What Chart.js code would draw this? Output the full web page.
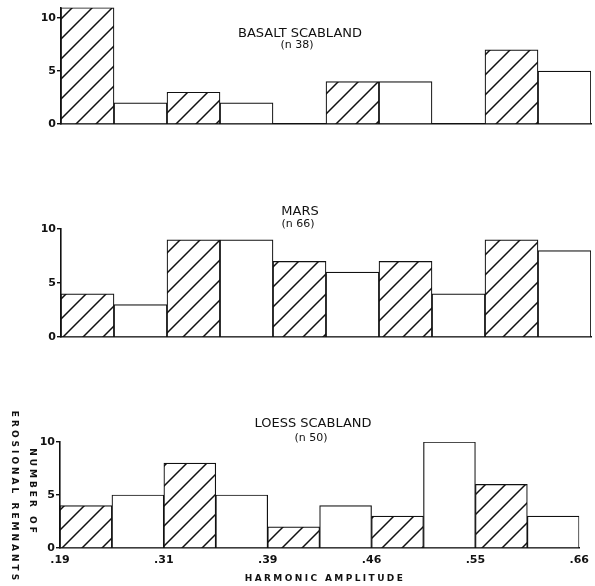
<!DOCTYPE html>
<html>
<head>
<meta charset="utf-8">
<script src="https://cdn.jsdelivr.net/npm/chart.js@4"></script>
<style>
  html, body { margin: 0; padding: 0; background: #fff; }
  #wrap { position: relative; width: 595px; height: 586px; overflow: hidden; background: #fff; }
  #wrap canvas { position: absolute; left: 0; }
</style>
</head>
<body>
<div id="wrap">
  <canvas id="basalt" width="595" height="150" style="top:0px"></canvas>
  <canvas id="mars" width="595" height="200" style="top:160px"></canvas>
  <canvas id="loess" width="595" height="196" style="top:390px"></canvas>
</div>
<script>
// Harmonic amplitude class boundaries (labelled every second boundary)
const amplitudeTicks = ['.19', '.31', '.39', '.46', '.55', '.66'];

// Number of erosional remnants per amplitude class
const basaltCounts = [11, 2, 3, 2, 0, 4, 4, 0, 7, 5];
const marsCounts   = [4, 3, 9, 9, 7, 6, 7, 4, 9, 8];
const loessCounts  = [4, 5, 8, 5, 2, 4, 3, 10, 6, 3];

// Which classes are drawn with diagonal hatching
const basaltHatched = [1, 0, 1, 0, 0, 1, 0, 0, 1, 0];
const marsHatched   = [1, 0, 1, 0, 1, 0, 1, 0, 1, 0];
const loessHatched  = [1, 0, 1, 0, 1, 0, 1, 0, 1, 0];

const INK = '#111';
const FONT = "'DejaVu Sans', sans-serif";

function makeHatch(ctx) {
  const tile = document.createElement('canvas');
  tile.width = 20; tile.height = 20;
  const g = tile.getContext('2d');
  g.fillStyle = '#fff';
  g.fillRect(0, 0, 20, 20);
  g.strokeStyle = INK;
  g.lineWidth = 1.5;
  g.beginPath();
  g.moveTo(-2, 22); g.lineTo(22, -2);
  g.moveTo(-2, 2);  g.lineTo(2, -2);
  g.moveTo(18, 22); g.lineTo(22, 18);
  g.stroke();
  return ctx.createPattern(tile, 'repeat');
}

// Free text (panel titles, axis titles) drawn on the canvas
const notesPlugin = {
  id: 'notes',
  afterDraw(chart, args, opts) {
    const ctx = chart.ctx;
    const top = chart.canvas.offsetTop;
    (opts.items || []).forEach(it => {
      ctx.save();
      ctx.fillStyle = INK;
      ctx.font = it.font;
      ctx.textAlign = 'center';
      ctx.textBaseline = 'middle';
      if (it.spacing) ctx.letterSpacing = it.spacing + 'px';
      ctx.translate(it.x, it.y - top);
      if (it.rot) ctx.rotate(it.rot);
      ctx.fillText(it.text, 0, 0);
      ctx.restore();
    });
  }
};

function panel(id, counts, hatched, cfg) {
  const canvas = document.getElementById(id);
  const ctx = canvas.getContext('2d');
  const hatch = makeHatch(ctx);
  const top = canvas.offsetTop;
  return new Chart(ctx, {
    type: 'bar',
    data: {
      datasets: [{
        data: counts.map((v, i) => ({ x: i + 0.5, y: v })),
        backgroundColor: hatched.map(h => h ? hatch : '#fff'),
        borderColor: INK,
        borderWidth: 1.2,
        borderSkipped: 'start',
        barPercentage: 1,
        categoryPercentage: 1
      }]
    },
    options: {
      responsive: false,
      animation: false,
      events: [],
      layout: {
        padding: {
          left: cfg.left - 30,
          right: 595 - cfg.right,
          top: cfg.yTop - top,
          bottom: canvas.height - (cfg.yBase - top) - cfg.xHeight
        }
      },
      plugins: {
        legend: { display: false },
        tooltip: { enabled: false },
        notes: { items: cfg.notes }
      },
      scales: {
        x: {
          type: 'linear',
          min: 0, max: 10,
          offset: false,
          grid: { display: false, drawTicks: false },
          border: { display: true, color: INK, width: 1.6 },
          afterBuildTicks: s => { s.ticks = [0, 2, 4, 6, 8, 10].map(v => ({ value: v })); },
          ticks: {
            display: cfg.showX,
            padding: 6,
            maxRotation: 0,
            color: INK,
            font: { family: FONT, weight: 'bold', size: 11 },
            callback: v => amplitudeTicks[Math.round(v / 2)]
          },
          afterFit: s => { s.height = cfg.xHeight; }
        },
        y: {
          min: 0, max: cfg.yMax,
          afterBuildTicks: s => { s.ticks = [0, 5, 10].map(v => ({ value: v })); },
          grid: { drawOnChartArea: false, tickLength: 4, color: INK, lineWidth: 1.4 },
          border: { display: true, color: INK, width: 1.6 },
          ticks: {
            padding: 1,
            color: INK,
            font: { family: FONT, weight: 'bold', size: 11 },
            callback: v => String(v)
          },
          afterFit: s => { s.width = 30; }
        }
      }
    },
    plugins: [notesPlugin]
  });
}

const titleFont = "13px " + FONT;
const subFont = "11px " + FONT;
const axisFont = "bold 9px " + FONT;

panel('basalt', basaltCounts, basaltHatched, {
  left: 61, right: 591, yTop: 124 - 11 * 10.6, yBase: 124, yMax: 11, xHeight: 0, showX: false,
  notes: [
    { text: 'BASALT SCABLAND', x: 300, y: 34, font: titleFont },
    { text: '(n 38)', x: 297, y: 45, font: subFont }
  ]
});

panel('mars', marsCounts, marsHatched, {
  left: 61, right: 591, yTop: 229, yBase: 337, yMax: 10, xHeight: 0, showX: false,
  notes: [
    { text: 'MARS', x: 300, y: 212, font: titleFont },
    { text: '(n 66)', x: 298, y: 224, font: subFont }
  ]
});

panel('loess', loessCounts, loessHatched, {
  left: 60, right: 588, yTop: 442, yBase: 548, yMax: 10, xHeight: 38, showX: true,
  notes: [
    { text: 'LOESS SCABLAND', x: 313, y: 424, font: titleFont },
    { text: '(n 50)', x: 311, y: 438, font: subFont },
    { text: 'HARMONIC AMPLITUDE', x: 325, y: 579, font: axisFont, spacing: 2.4 },
    { text: 'NUMBER OF', x: 32, y: 492, font: axisFont, spacing: 3, rot: Math.PI / 2 },
    { text: 'EROSIONAL REMNANTS', x: 14, y: 497, font: axisFont, spacing: 3, rot: Math.PI / 2 }
  ]
});
</script>
</body>
</html>
